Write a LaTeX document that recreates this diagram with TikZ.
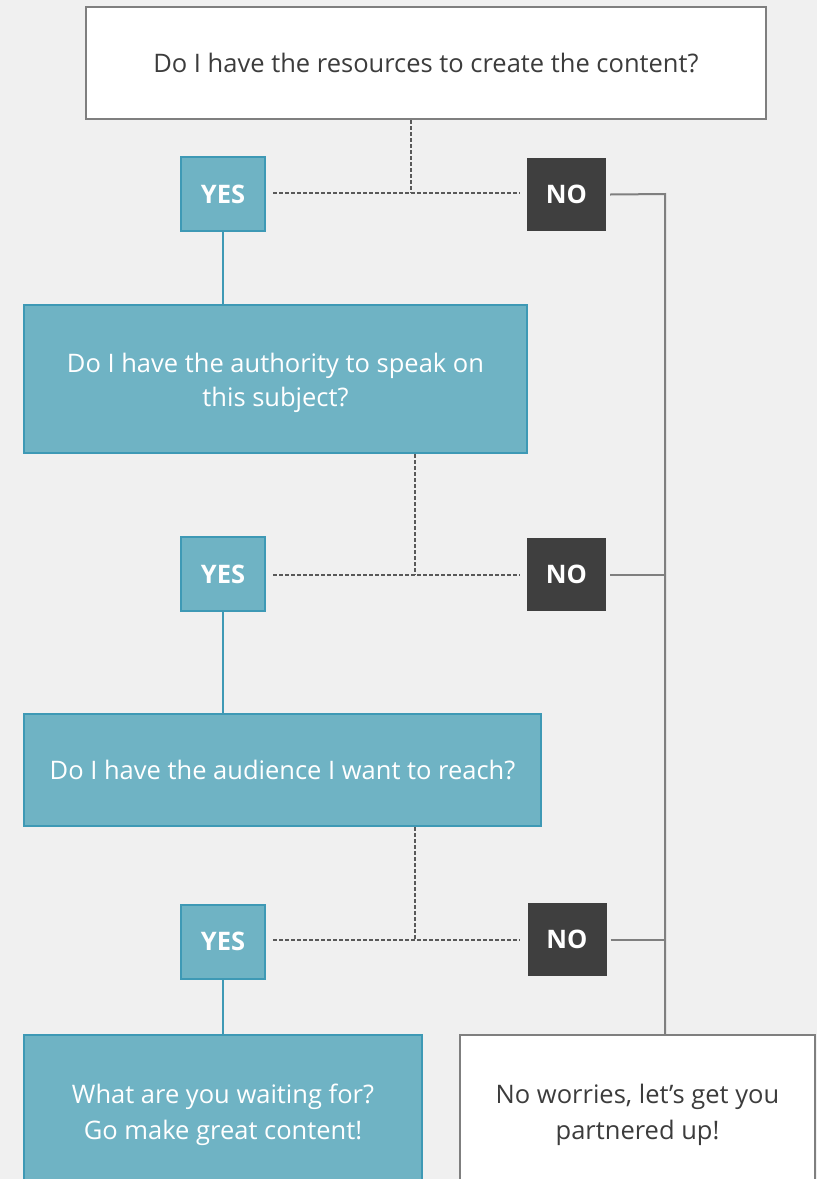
\documentclass[tikz,border=0pt]{standalone}
\usepackage{fontspec}
\setmainfont{Open Sans}
\usetikzlibrary{calc}
\definecolor{bg}{RGB}{240,240,240}
\definecolor{teal}{RGB}{111,179,196}
\definecolor{tealdark}{RGB}{62,153,181}
\definecolor{darkbox}{RGB}{63,63,63}
\definecolor{grayline}{RGB}{127,127,127}
\definecolor{dashgray}{RGB}{89,89,89}
\definecolor{txt}{RGB}{60,60,60}
\tikzset{
  base/.style={inner sep=0pt, align=center, font=\fontsize{25.5}{36}\selectfont},
  whitebox/.style={base, draw=grayline, line width=2pt, fill=white, text=txt},
  tealbox/.style={base, draw=tealdark, line width=2pt, fill=teal, text=white},
  yesbox/.style={tealbox, minimum width=84pt, minimum height=74pt, font=\fontsize{25.5}{36}\selectfont\bfseries},
  nobox/.style={base, fill=darkbox, text=white, minimum width=79pt, minimum height=73pt, font=\fontsize{25.5}{36}\selectfont\bfseries},
  dashline/.style={draw=dashgray, line width=1.3pt, dash pattern=on 4pt off 2pt},
  solidline/.style={draw=grayline, line width=2pt},
  tealline/.style={draw=tealdark, line width=2pt},
}
\begin{document}
\begin{tikzpicture}[x=1pt,y=-1pt]
\useasboundingbox (0,0) rectangle (817,1179);
\clip (0,0) rectangle (817,1179);
\fill[bg] (0,0) rectangle (817,1179);

% nodes
\node[whitebox, minimum width=680pt, minimum height=112pt] (top) at (426,63) {Do I have the resources to create the content?};
\node[yesbox] (yes1) at (223,194) {YES};
\node[nobox] (no1) at (566.5,194.5) {NO};
\node[tealbox, minimum width=503pt, minimum height=148pt, font=\fontsize{25.5}{34}\selectfont] (q2) at (275.5,379) {\raisebox{-4pt}[\height][\depth]{\begin{tabular}{@{}c@{}}Do I have the authority to speak on\\this subject?\end{tabular}}};
\node[yesbox] (yes2) at (223,574) {YES};
\node[nobox] (no2) at (566.5,574.5) {NO};
\node[tealbox, minimum width=517pt, minimum height=112pt] (q3) at (282.5,770) {Do I have the audience I want to reach?};
\node[yesbox] (yes3) at (223,941.5) {YES};
\node[nobox] (no3) at (567,939.5) {NO};
\node[tealbox, minimum width=398pt, minimum height=160pt] (go) at (223,1115) {What are you waiting for?\\Go make great content!};
\node[whitebox, minimum width=355pt, minimum height=160pt] (partner) at (637.5,1115) {No worries, let’s get you\\partnered up!};

% junction coordinates
\coordinate (j1) at (411,193);
\coordinate (j2) at (415,575);
\coordinate (j3) at (415,940);
\coordinate (r1) at (665,194);

% dashed connectors
\draw[dashline] (top.south -| j1) -- (j1);
\draw[dashline] ([xshift=7pt]yes1.east |- j1) -- ([xshift=-7pt]no1.west |- j1);
\draw[dashline] (q2.south -| j2) -- (j2);
\draw[dashline] ([xshift=7pt]yes2.east |- j2) -- ([xshift=-7pt]no2.west |- j2);
\draw[dashline] (q3.south -| j3) -- (j3);
\draw[dashline] ([xshift=7pt]yes3.east |- j3) -- ([xshift=-7pt]no3.west |- j3);

% solid gray connectors
\draw[solidline] ([xshift=4pt]no1.east) -- (r1) -- (r1 |- partner.north);
\draw[solidline] ([xshift=4pt]no2.east) -- (no2.east -| r1);
\draw[solidline] ([xshift=4pt]no3.east) -- (no3.east -| r1);

% teal connectors
\draw[tealline] (yes1.south) -- (yes1.south |- q2.north);
\draw[tealline] (yes2.south) -- (yes2.south |- q3.north);
\draw[tealline] (yes3.south) -- (yes3.south |- go.north);
\end{tikzpicture}
\end{document}
